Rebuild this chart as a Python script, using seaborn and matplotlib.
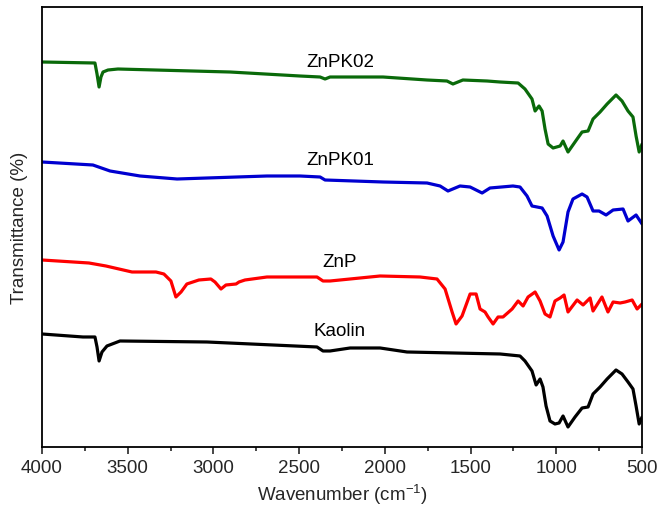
import numpy as np
import pandas as pd
import matplotlib
matplotlib.use("Agg")
import matplotlib.pyplot as plt
from matplotlib.ticker import MultipleLocator
import seaborn as sns

# FTIR spectra (wavenumber, offset transmittance in arbitrary units)
kaolin_wn = [4000, 3761, 3691, 3679, 3667, 3650, 3621, 3545, 3038, 2396, 2361, 2320, 2203, 2028,
             1871, 1328, 1212, 1183, 1142, 1118, 1095, 1078, 1060, 1037, 1008, 984, 961, 932,
             891, 850, 815, 786, 745, 704, 652, 617, 582, 553, 535, 517, 500]
kaolin_t = [113, 110, 110, 100, 86, 95, 101, 106, 105, 100, 96, 96, 99, 99,
            95, 93, 91, 86, 76, 62, 68, 60, 41, 26, 23, 24, 31, 20,
            30, 39, 40, 53, 60, 68, 77, 73, 65, 58, 41, 23, 30]

znp_wn = [4000, 3726, 3627, 3475, 3335, 3289, 3248, 3219, 3189, 3155, 3085, 3015, 2991, 2956,
          2927, 2868, 2851, 2816, 2688, 2396, 2361, 2320, 2028, 1795, 1696, 1649, 1608, 1585,
          1550, 1503, 1468, 1445, 1416, 1398, 1369, 1340, 1311, 1258, 1223, 1194, 1165, 1124,
          1095, 1066, 1037, 1008, 978, 955, 932, 879, 844, 803, 786, 734, 699, 669, 628, 599,
          558, 529, 500]
znp_t = [187, 184, 181, 175, 175, 173, 166, 150, 155, 163, 167, 168, 165, 158,
         162, 163, 165, 167, 170, 170, 166, 166, 171, 170, 168, 158, 135, 123,
         131, 153, 153, 138, 135, 130, 123, 130, 130, 138, 146, 141, 150, 155,
         146, 133, 130, 146, 149, 152, 135, 147, 142, 149, 136, 150, 135, 145, 144, 145,
         147, 138, 143]

znpk01_wn = [4000, 3703, 3603, 3428, 3212, 3038, 2688, 2495, 2378, 2349, 2011, 1754, 1678, 1632,
             1562, 1503, 1433, 1387, 1253, 1212, 1171, 1142, 1083, 1054, 1019, 984, 961, 932,
             903, 850, 821, 786, 751, 710, 669, 611, 582, 535, 500]
znpk01_t = [285, 282, 276, 271, 268, 269, 271, 271, 270, 267, 265, 264, 261, 256,
            261, 260, 254, 259, 261, 260, 251, 241, 239, 231, 211, 197, 205, 235,
            248, 253, 250, 236, 236, 232, 237, 238, 226, 232, 223]

znpk02_wn = [4000, 3691, 3679, 3667, 3656, 3644, 3615, 3557, 2903, 2495, 2378, 2349, 2320, 2011,
             1754, 1638, 1603, 1545, 1404, 1328, 1223, 1183, 1142, 1124, 1101, 1083, 1066, 1048,
             1019, 978, 961, 932, 879, 850, 815, 786, 745, 704, 652, 617, 582, 553, 535, 517, 500]
znpk02_t = [385, 384, 373, 360, 370, 375, 377, 378, 375, 371, 370, 368, 370, 370,
            367, 366, 363, 367, 366, 365, 364, 358, 348, 336, 341, 336, 318, 303,
            299, 301, 306, 295, 308, 315, 316, 328, 335, 343, 352, 346, 336, 330, 311, 295, 303]

series_names = ["Kaolin", "ZnP", "ZnPK01", "ZnPK02"]
series_colors = ["#000000", "#ff0000", "#0000d0", "#0a6a0a"]
label_y = [116, 185, 287, 386]

sns.set_style("ticks")
plt.rcParams['font.family'] = ['Liberation Sans', 'DejaVu Sans']
plt.rcParams['mathtext.default'] = 'regular'

fig = plt.figure(figsize=(6.58, 5.10), dpi=100)
ax = fig.add_axes([0.0638, 0.1216, 0.912, 0.8627])

spectra = [(kaolin_wn, kaolin_t), (znp_wn, znp_t), (znpk01_wn, znpk01_t), (znpk02_wn, znpk02_t)]
for (wn, t), name, col, ly in zip(spectra, series_names, series_colors, label_y):
    df = pd.DataFrame({"wn": wn, "t": t})
    sns.lineplot(data=df, x="wn", y="t", color=col, linewidth=2.3, sort=False, ax=ax,
                 solid_joinstyle="round", solid_capstyle="round")
    ax.text(2262, ly, name, ha="center", va="center", fontsize=13.5, color="black")

ax.set_xlim(4000, 500)
ax.set_ylim(0, 440)
ax.xaxis.set_major_locator(MultipleLocator(500))
ax.xaxis.set_minor_locator(MultipleLocator(250))
ax.tick_params(axis="x", which="major", direction="out", length=5, width=1.2, labelsize=13.5, pad=4)
ax.tick_params(axis="x", which="minor", direction="out", length=3, width=1.2)
ax.set_yticks([])
for sp in ax.spines.values():
    sp.set_linewidth(1.3)
    sp.set_color("black")

ax.set_xlabel("Wavenumber (cm$^{-1}$)", fontsize=13.5, labelpad=4)
ax.set_ylabel("Transmittance (%)", fontsize=13.5, labelpad=10)

fig.savefig("out.png", dpi=100)
